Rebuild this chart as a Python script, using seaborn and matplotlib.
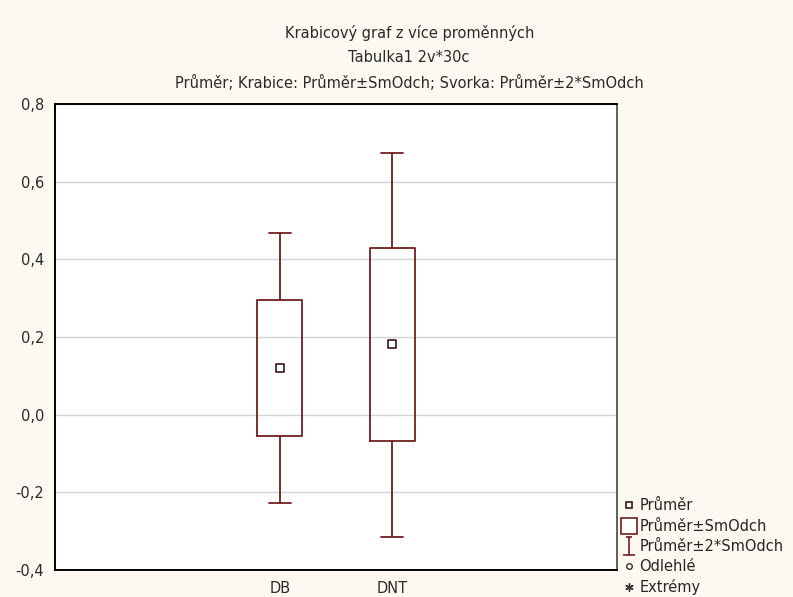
import numpy as np
import seaborn as sns
import matplotlib.pyplot as plt
from matplotlib.lines import Line2D
from matplotlib.path import Path

# values (mean, mean+-SD box, mean+-2SD whiskers)
categories = ['DB', 'DNT']
means = [0.120, 0.181]
box_low = [-0.055, -0.067]
box_high = [0.295, 0.428]
whisker_low = [-0.228, -0.314]
whisker_high = [0.468, 0.674]

y_ticks = [-0.4, -0.2, 0.0, 0.2, 0.4, 0.6, 0.8]
title_lines = ['Krabicový graf z více proměnných',
               'Tabulka1 2v*30c',
               'Průměr; Krabice: Průměr±SmOdch; Svorka: Průměr±2*SmOdch']

box_color = '#6e1f1f'
mean_color = '#3b1414'
bg_color = '#fdf9f1'
text_color = '#2a2a2a'

sns.set_style('whitegrid')
plt.rcParams['font.family'] = ['DejaVu Sans']

fig = plt.figure(figsize=(7.93, 5.97), dpi=100, facecolor=bg_color)
ax = fig.add_axes([0.0694, 0.0452, 0.7087, 0.7806])
ax.set_facecolor('white')

# means as hollow squares on a categorical axis
sns.scatterplot(x=categories, y=means, marker='s', s=40, facecolor='white',
                edgecolor=mean_color, linewidth=1.2, zorder=5, ax=ax)

# boxes and whiskers from the summary values
stats = []
for i, name in enumerate(categories):
    stats.append({'label': name, 'med': means[i],
                  'q1': box_low[i], 'q3': box_high[i],
                  'whislo': whisker_low[i], 'whishi': whisker_high[i],
                  'fliers': []})
ax.bxp(stats, positions=[0, 1], widths=0.4, showfliers=False,
       boxprops=dict(color=box_color, linewidth=1.3),
       whiskerprops=dict(color=box_color, linewidth=1.3),
       capprops=dict(color=box_color, linewidth=1.3),
       medianprops=dict(linewidth=0), manage_ticks=False, zorder=3)

ax.set_xlim(-2, 3)
ax.set_xticks([-1, 0, 1, 2])
ax.set_xticklabels(['', 'DB', 'DNT', ''])
ax.set_ylim(-0.4, 0.8)
ax.set_yticks(y_ticks)
ax.set_yticklabels([f'{v:.1f}'.replace('.', ',') for v in y_ticks])
ax.grid(axis='y', color='#d4d4d4', linewidth=1)
ax.grid(axis='x', visible=False)
ax.tick_params(axis='x', direction='in', length=3, width=1.2, color='black',
               pad=8, labelsize=10.5, labelcolor=text_color)
ax.tick_params(axis='y', direction='out', length=3, width=1, color='#888888',
               pad=5, labelsize=10.5, labelcolor=text_color)
for side in ['left', 'bottom', 'top']:
    ax.spines[side].set_color('black')
    ax.spines[side].set_linewidth(1.4)
ax.spines['right'].set_color('#444444')
ax.spines['right'].set_linewidth(1.2)
ax.set_xlabel('')
ax.set_ylabel('')

# three-line title centred over the figure
for k, line in enumerate(title_lines):
    fig.text(0.516, 0.945 - k * 0.042, line, ha='center', va='center',
             fontsize=10.5, color=text_color)

# legend like the original
ibeam = Path([(-0.35, 1), (0.35, 1), (0, 1), (0, -1), (-0.7, -1), (0.7, -1)],
             [Path.MOVETO, Path.LINETO, Path.MOVETO, Path.LINETO,
              Path.MOVETO, Path.LINETO])
handles = [
    Line2D([], [], ls='', marker='s', ms=5, mfc='white', mec=mean_color, mew=1.2),
    Line2D([], [], ls='', marker='s', ms=11, mfc='white', mec=box_color, mew=1.2),
    Line2D([], [], ls='', marker=ibeam, ms=13, mfc='none', mec=box_color, mew=1.2),
    Line2D([], [], ls='', marker='o', ms=4, mfc='white', mec='#333333', mew=1),
    Line2D([], [], ls='', marker=(6, 2, 0), ms=6, mec='#333333', mew=1),
]
labels = ['Průměr', 'Průměr±SmOdch', 'Průměr±2*SmOdch', 'Odlehlé', 'Extrémy']
fig.legend(handles, labels, loc='upper left', bbox_to_anchor=(0.786, 0.165),
           frameon=False, fontsize=10.5, handlelength=0.8, handletextpad=0.3,
           labelspacing=0.36, borderaxespad=0, borderpad=0)

fig.savefig('out.png', dpi=100, facecolor=bg_color)
